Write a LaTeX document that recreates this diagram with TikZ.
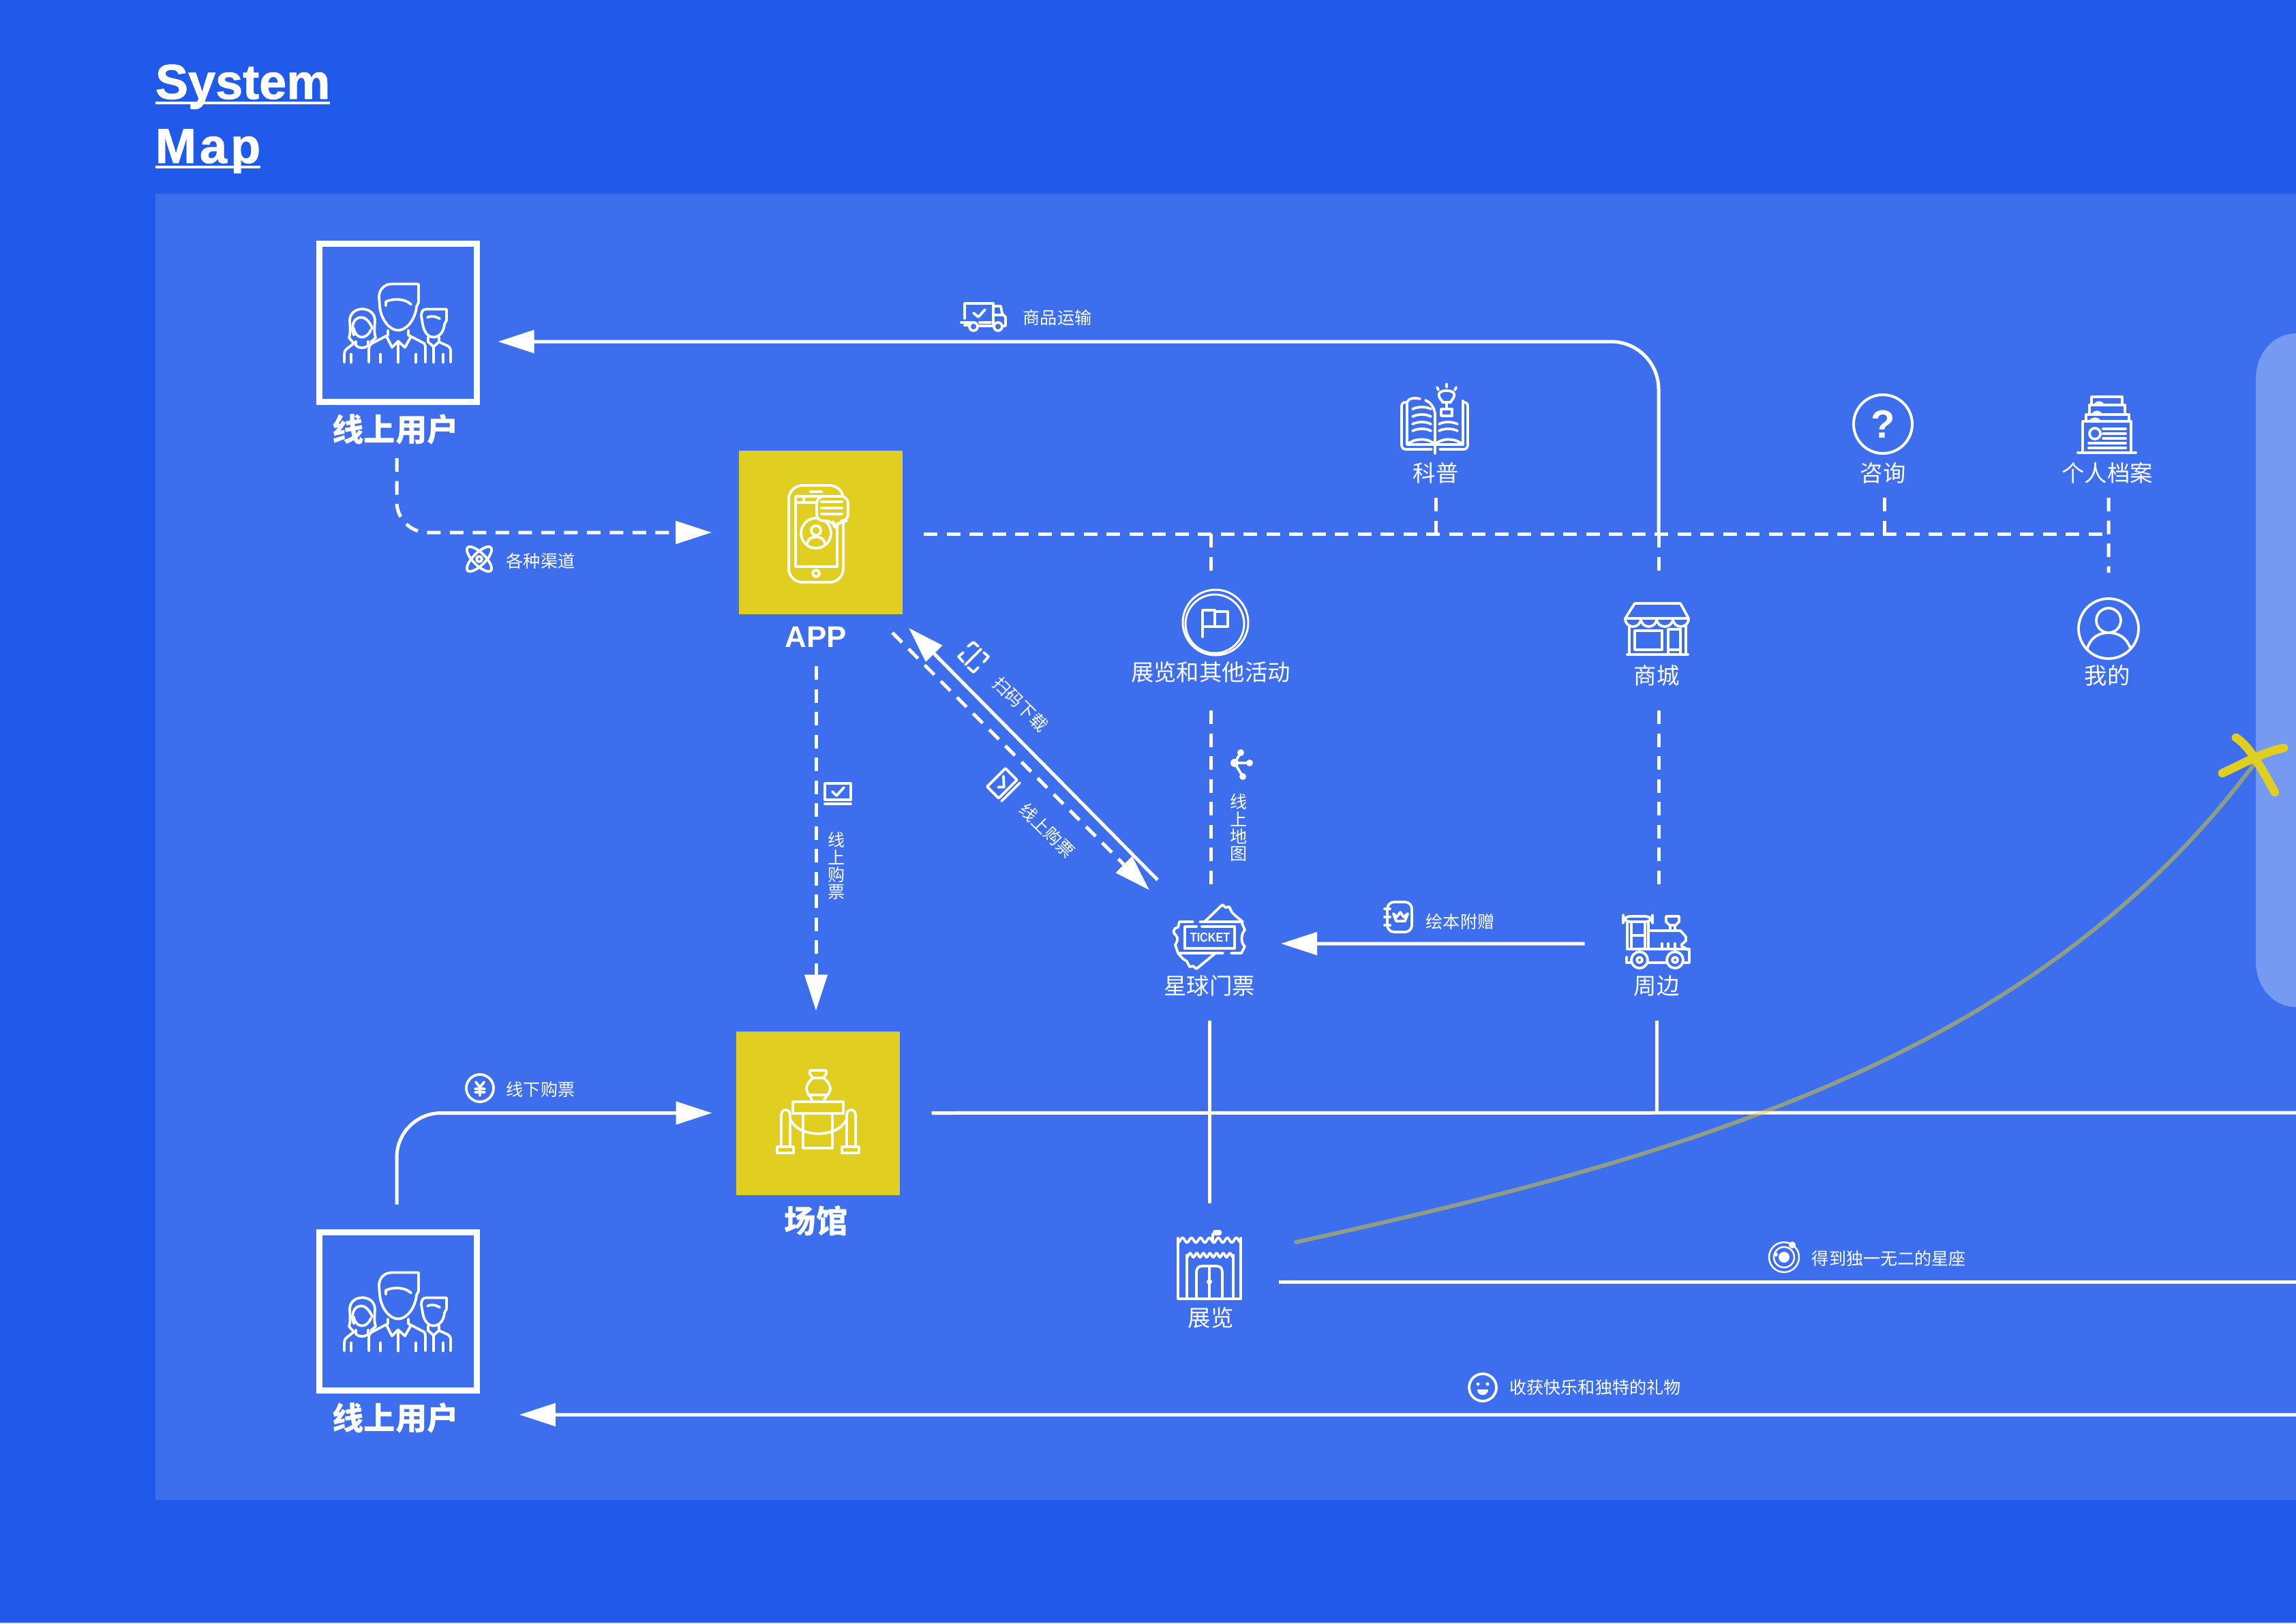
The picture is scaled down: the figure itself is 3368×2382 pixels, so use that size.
\documentclass[tikz,border=0pt]{standalone}
\usepackage{fontspec}
\usepackage{xcolor}
\usetikzlibrary{arrows.meta}
\setmainfont{Liberation Sans}
\newfontfamily\cjk{Noto Sans CJK SC}
\newcommand{\pxsize}[1]{\fontsize{#1}{#1}\selectfont}
\definecolor{mapdeep}{HTML}{1F5AEA}
\definecolor{mappanel}{HTML}{3C6EEE}
\definecolor{mapside}{HTML}{7699F2}
\definecolor{mapgold}{HTML}{E0CF20}
\definecolor{mapedge}{HTML}{D5E0FB}

\begin{document}
\begin{tikzpicture}[
  x=0.1mm,
  y=-0.1mm,
  every node/.style={text=white, inner sep=0pt, outer sep=0pt},
  flowtip/.style={-{Triangle[length=5.3mm, width=3.3mm]}},
  solidflow/.style={white, line width=0.5mm},
  dashflow/.style={white, line width=0.5mm, dash pattern=on 2mm off 1.35mm},
  icon/.style={white, line width=0.38mm, line cap=round, line join=round},
  dot/.style={fill=white, draw=none},
  userbox/.style={draw=white, line width=0.9mm, minimum width=23.1mm, minimum height=23.2mm},
  goldbox/.style={fill=mapgold, minimum width=24mm, minimum height=24mm},
  slot/.style={minimum width=#1},
  mainlabel/.style={font=\cjk\pxsize{13.2}\bfseries, minimum height=5mm},
  applabel/.style={font=\pxsize{12.5}\bfseries, minimum height=4mm},
  itemlabel/.style={font=\cjk\pxsize{9.5}, minimum height=4mm},
  edgelabel/.style={font=\cjk\pxsize{7.15}},
  stacklabel/.style={font=\cjk\pxsize{7.15}, align=center},
  titlelabel/.style={font=\pxsize{20.5}\bfseries\addfontfeature{FakeBold=1.2}, anchor=base west},
  titlerule/.style={white, line width=0.45mm},
  starline/.style={mapgold, opacity=0.5, line width=0.6mm, line cap=round},
  starmark/.style={mapgold, line width=1.25mm, line cap=round},
  people/.pic={
    % big figure
    \draw[icon] (30,-57) -- (-9,-57) .. controls (-21,-57) and (-28,-48) .. (-28,-38) -- (-27,-24)
      .. controls (-25,-4) and (-12,11) .. (0,11) .. controls (12,11) and (25,-4) .. (27,-24) -- (30,-30) -- cycle;
    \draw[icon] (-18,-25) -- (-18,-31) .. controls (-8,-36) and (10,-36) .. (19,-27);
    \draw[icon] (-15,11) -- (-15,18) -- (-38,30) .. controls (-42,32) and (-43,36) .. (-43,40) -- (-43,58);
    \draw[icon] (15,11) -- (15,18) -- (38,30) .. controls (39,31) and (40,33) .. (40,36) -- (40,58);
    \draw[icon] (-17,20) -- (-9,36) -- (0,27) -- (10,36) -- (19,20);
    \draw[icon] (0,27) -- (0,58) (-26,46) -- (-26,58) (26,46) -- (26,58);
    % left figure
    \draw[icon] (-72,22) .. controls (-69,12) and (-71,4) .. (-71,-3) .. controls (-71,-26) and (-34,-26) .. (-34,-3)
      .. controls (-34,4) and (-36,12) .. (-33,22) -- (-40,28);
    \draw[icon] (-65,18) .. controls (-69,8) and (-67,-8) .. (-54,-8) .. controls (-46,-8) and (-40,2) .. (-38,8);
    \draw[icon] (-65,8) .. controls (-63,24) and (-46,26) .. (-40,10);
    \draw[icon] (-72,22) -- (-65,30) -- (-75,38) .. controls (-78,40) and (-79,43) .. (-79,46) -- (-79,58);
    \draw[icon] (-62,27) -- (-62,33) .. controls (-58,38) and (-48,38) .. (-44,33) -- (-44,27);
    \draw[icon] (-69,46) -- (-69,58);
    % right figure
    \draw[icon] (71,-20) -- (41,-20) .. controls (36,-20) and (34,-16) .. (34,-10) -- (36,2)
      .. controls (38,14) and (44,21) .. (52,21) .. controls (60,21) and (67,14) .. (68,2) -- (71,-4) -- cycle;
    \draw[icon] (43,-8) .. controls (50,-11) and (56,-9) .. (61,-6);
    \draw[icon] (44,21) -- (44,28) -- (52,35) -- (60,28) -- (60,21);
    \draw[icon] (60,28) -- (73,34) .. controls (76,36) and (77,38) .. (77,42) -- (77,58);
    \draw[icon] (52,35) -- (52,58) (66,46) -- (66,58);
  },
  checkscreen/.pic={
    \draw[icon] (-19,-15) rectangle (19,9);
    \draw[icon] (-19,15) -- (19,15);
    \draw[icon] (-8,-3) -- (-2,3) -- (9,-9);
  }
]
  % ---- page size and the flat areas --------------------------------------
  \useasboundingbox (0,0) rectangle (3368,2382);
  \fill[mapdeep] (0,0) rectangle (3368,2382);
  \fill[mapedge] (0,2380) rectangle (3368,2382);
  \fill[mappanel] (228,284) rectangle (3368,2200);
  \fill[mapside] (3368,489) .. controls (3335,489) and (3309,518) .. (3309,556) -- (3309,1410)
    .. controls (3309,1448) and (3335,1477) .. (3368,1477) -- cycle;

  % ---- title -------------------------------------------------------------
  \node[titlelabel] (systemword) at (228,145) {System};
  \node[titlelabel] (mapword) at (228,239) {\addfontfeature{LetterSpace=7}Map};
  \draw[titlerule] ([yshift=-0.6mm]systemword.base west) -- ([yshift=-0.6mm]systemword.base east);
  \draw[titlerule] ([yshift=-0.6mm]mapword.base west) -- ([yshift=-0.6mm]mapword.base east);

  % ---- main boxes --------------------------------------------------------
  \node[userbox] (usertop) at (584,473.5) {};
  \node[mainlabel] (usertoplabel) at (580,630) {线上用户};
  \node[userbox] (userlow) at (584,1923.5) {};
  \node[mainlabel] (userlowlabel) at (580,2080) {线上用户};
  \node[goldbox] (app) at (1204,781) {};
  \node[applabel] (applabelnode) at (1197,934) {APP};
  \node[goldbox] (venue) at (1199.5,1632.5) {};
  \node[mainlabel] (venuelabel) at (1197,1791) {场馆};
  \path (usertop) pic {people};
  \path (userlow) pic {people};

  % ---- item labels and the slots of their icons --------------------------
  \node[itemlabel] (sciencelabel) at (2106,694) {科普};
  \node[itemlabel] (asklabel) at (2762,694) {咨询};
  \node[itemlabel] (filelabel) at (3091,694) {个人档案};
  \node[itemlabel] (eventlabel) at (1776,986) {展览和其他活动};
  \node[itemlabel] (shoplabel) at (2430,991) {商城};
  \node[itemlabel] (minelabel) at (3091,991) {我的};
  \node[itemlabel] (ticketlabel) at (1774,1446) {星球门票};
  \node[itemlabel] (giftlabel) at (2430,1446) {周边};
  \node[itemlabel] (showlabel) at (1776,1933) {展览};
  \node[slot=9.3mm, minimum height=7.8mm] (shopicon) at (2431,923) {};
  \node[slot=8.8mm, minimum height=8.8mm] (mineicon) at (3093,922) {};
  \node[slot=9.6mm, minimum height=9.6mm] (eventicon) at (1783,913) {};
  \node[slot=10.4mm, minimum height=9.5mm] (ticketicon) at (1775,1375) {};
  \node[slot=9.7mm, minimum height=7.6mm] (trainicon) at (2429,1382) {};
  \node[slot=9.2mm, minimum height=10.1mm] (showicon) at (1774,1855) {};

  % ---- free ends ---------------------------------------------------------
  \coordinate (hubend) at (3087,783);
  \coordinate (shipstart) at (2433,783);
  \coordinate (venueend) at (3368,1632);
  \coordinate (showend) at (3368,1880);
  \coordinate (backstart) at (3368,2075);
  \coordinate (starfrom) at (1901,1822);
  \coordinate (starto) at (3307,1120);

  % ---- connectors --------------------------------------------------------
  \draw[solidflow, flowtip, rounded corners=7mm, shorten >=3.1mm]
    (shipstart) |- ([yshift=-2.75mm]usertop.east);
  \draw[dashflow, flowtip, rounded corners=4.5mm, shorten <=1.7mm, shorten >=4mm]
    ([xshift=0.2mm]usertoplabel.south) |- (app.west);
  \draw[dashflow, shorten <=3.1mm] (app.east |- hubend) -- (hubend);
  \draw[dashflow, shorten <=1.6mm] (sciencelabel.south) -- (sciencelabel.south |- hubend);
  \draw[dashflow, shorten <=1.6mm] ([xshift=0.2mm]asklabel.south) -- ([xshift=0.2mm]asklabel.south |- hubend);
  \draw[dashflow, shorten <=1.6mm, shorten >=3.8mm] ([xshift=0.2mm]filelabel.south) -- (mineicon.north);
  \draw[dashflow, shorten >=2.2mm] (eventlabel |- hubend) -- (eventlabel |- eventicon.north);
  \draw[dashflow, shorten >=4.4mm] (shipstart) -- (shipstart |- shopicon.north);
  \draw[dashflow, shorten <=3.6mm, shorten >=1.8mm] (eventlabel.south) -- (eventlabel.south |- ticketicon.north);
  \draw[dashflow, shorten <=3.1mm, shorten >=3.5mm] (shipstart |- shoplabel.south) -- (shipstart |- trainicon.north);
  \draw[dashflow, flowtip, shorten <=2.3mm, shorten >=3mm] (applabelnode.south) -- (applabelnode.south |- venue.north);
  \draw[solidflow, flowtip] ([xshift=-2.5mm, yshift=3.7mm]ticketicon.north west) -- ([xshift=0.9mm, yshift=-2mm]app.south east);
  \draw[dashflow, flowtip] ([xshift=-1.5mm, yshift=-2.7mm]app.south east) -- ([xshift=-3.7mm, yshift=2.2mm]ticketicon.north west);
  \draw[solidflow, flowtip, shorten <=5.6mm, shorten >=5.2mm] ([yshift=-0.2mm]trainicon.west) -- ([yshift=-0.9mm]ticketicon.east);
  \draw[solidflow, shorten <=3.1mm, shorten >=4mm] (ticketlabel.south) -- (ticketlabel.south |- showicon.north);
  \draw[solidflow, shorten <=3.1mm] (giftlabel.south) -- (giftlabel.south |- venueend);
  \draw[solidflow, shorten <=4.7mm] (venue.east) -- (venueend);
  \draw[solidflow, shorten <=5.6mm] (showicon.east |- showend) -- (showend);
  \draw[solidflow, flowtip, rounded corners=6.5mm, shorten <=4.1mm, shorten >=3.5mm] ([xshift=-0.2mm]userlow.north) |- (venue.west);
  \draw[solidflow, flowtip, shorten >=8.9mm] (backstart) -- ([yshift=0.5mm]userlowlabel.east);

  % ---- texts along the connectors ----------------------------------------
  \node[edgelabel] (shiptext) at (1551,466) {商品运输};
  \node[edgelabel] (channeltext) at (793,823) {各种渠道};
  \node[edgelabel] (gifttext) at (2142,1352) {绘本附赠};
  \node[edgelabel] (cashtext) at (793,1598) {线下购票};
  \node[edgelabel] (startext) at (2771,1846) {得到独一无二的星座};
  \node[edgelabel] (joytext) at (2340,2035) {收获快乐和独特的礼物};
  \node[edgelabel, rotate=-45] (scantext) at (1497,1033) {扫码下载};
  \node[edgelabel, rotate=-45] (buytext) at (1536,1218) {线上购票};
  \node[stacklabel] (onlinetext) at (1227,1270) {线\\上\\购\\票};
  \node[stacklabel] (maptext) at (1817,1214) {线\\上\\地\\图};

  % ---- phone -------------------------------------------------------------
  \draw[icon, rounded corners=2mm] (1157,712) rectangle (1237,854);
  \draw[icon] (1167,728) rectangle (1228,831) (1167,737) -- (1198,737) (1179,728) -- (1179,737) (1189,721) -- (1205,721);
  \draw[icon] (1197,841) circle[radius=5];
  \draw[icon] (1197,782) circle[radius=22] (1197,778) circle[radius=7];
  \draw[icon] (1184,798) .. controls (1184,784) and (1210,784) .. (1210,798);
  \draw[icon, fill=mapgold, rounded corners=1mm] (1198,728) -- (1244,728) -- (1244,764) -- (1232,764) -- (1225,775) -- (1222,764) -- (1198,764) -- cycle;
  \draw[icon] (1205,736) -- (1235,736) (1205,745) -- (1235,745) (1205,754) -- (1235,754);

  % ---- vase --------------------------------------------------------------
  \draw[icon] (1188,1570) -- (1212,1570) -- (1212,1575) -- (1208,1581) .. controls (1214,1586) and (1218,1591) .. (1218,1597)
    .. controls (1218,1604) and (1210,1608) .. (1208,1616) -- (1192,1616) .. controls (1190,1608) and (1183,1604) .. (1183,1597)
    .. controls (1183,1591) and (1187,1586) .. (1192,1581) -- (1188,1575) -- cycle;
  \draw[icon] (1192,1581) -- (1208,1581) (1186,1606) -- (1214,1606);
  \draw[icon] (1163,1616) rectangle (1237,1633);
  \draw[icon] (1178,1633) -- (1178,1684) -- (1221,1684) -- (1221,1633);
  \draw[icon] (1146,1682) -- (1146,1636) .. controls (1146,1625) and (1159,1625) .. (1159,1636) -- (1159,1682);
  \draw[icon] (1242,1682) -- (1242,1636) .. controls (1242,1625) and (1255,1625) .. (1255,1636) -- (1255,1682);
  \draw[icon] (1140,1682) rectangle (1164,1691) (1235,1682) rectangle (1260,1691);
  \draw[icon] (1159,1641) .. controls (1170,1670) and (1231,1670) .. (1242,1641);

  % ---- book with bulb ----------------------------------------------------
  \draw[icon] (2062,590) .. controls (2058,590) and (2056,592) .. (2056,596) -- (2056,652) .. controls (2056,656) and (2058,659) .. (2062,659) -- (2100,659);
  \draw[icon] (2112,659) -- (2147,659) .. controls (2151,659) and (2153,656) .. (2153,652) -- (2153,596) .. controls (2153,592) and (2151,590) .. (2147,590);
  \draw[icon] (2064,652) -- (2064,590) .. controls (2066,584) and (2075,583) .. (2083,585);
  \draw[icon] (2105,652) -- (2105,665) (2105,606) -- (2105,652);
  \draw[icon] (2091,587) .. controls (2098,590) and (2103,596) .. (2105,606);
  \draw[icon] (2146,652) -- (2146,588);
  \draw[icon] (2064,652) .. controls (2075,642) and (2096,642) .. (2105,652) .. controls (2114,642) and (2135,642) .. (2146,652) (2064,652) -- (2146,652);
  \draw[icon] (2072,600) .. controls (2080,596) and (2092,596) .. (2099,600);
  \draw[icon] (2072,611) .. controls (2080,607) and (2092,607) .. (2099,611);
  \draw[icon] (2072,622) .. controls (2080,618) and (2092,618) .. (2099,622);
  \draw[icon] (2072,632) .. controls (2080,628) and (2092,628) .. (2099,632);
  \draw[icon] (2111,622) .. controls (2118,618) and (2130,618) .. (2138,622);
  \draw[icon] (2111,632) .. controls (2118,628) and (2130,628) .. (2138,632);
  \draw[icon] (2117,590) .. controls (2105,578) and (2112,573) .. (2122,573) .. controls (2132,573) and (2139,578) .. (2127,590) -- cycle;
  \draw[icon] (2116,590) -- (2128,590) (2122,590) -- (2122,600);
  \draw[icon] (2114,600) rectangle (2130,610);
  \draw[icon] (2122,563) -- (2122,568) (2108,568) -- (2110,572) (2136,568) -- (2134,572);

  % ---- question ----------------------------------------------------------
  \draw[icon, line width=0.4mm] (2762,622) circle[radius=43];
  \node[font=\pxsize{16.5}\bfseries] (askmark) at (2762,622) {?};

  % ---- stacked cards -----------------------------------------------------
  \draw[icon] (3068,594) -- (3068,582) -- (3113,582) -- (3113,594);
  \draw[icon] (3065,594) -- (3117,594) (3065,608) -- (3065,594) (3117,608) -- (3117,594);
  \draw[icon] (3060,608) -- (3123,608) (3060,618) -- (3060,608) (3123,618) -- (3123,608);
  \draw[icon] (3055,664) -- (3055,618) -- (3126,618) -- (3126,664);
  \draw[icon] (3048,664) -- (3133,664);
  \draw[icon] (3073,636) circle[radius=8];
  \draw[icon] (3085,629) -- (3118,629) (3085,636) -- (3118,636) (3085,643) -- (3118,643);
  \draw[icon] (3064,650) -- (3118,650) (3064,657) -- (3118,657);
  \draw[icon] (3073,594) .. controls (3075,589) and (3083,589) .. (3085,594);
  \draw[icon] (3070,608) .. controls (3072,603) and (3080,603) .. (3082,608);
  \draw[icon] (3066,618) .. controls (3068,613) and (3078,613) .. (3080,618);

  % ---- flag --------------------------------------------------------------
  \draw[icon, line width=0.3mm] (eventicon) circle[radius=48] (1782,915) circle[radius=43];
  \draw[icon] (1764,934) -- (1764,895) -- (1782,895) -- (1782,919) -- (1764,919);
  \draw[icon] (1782,897) -- (1801,897) -- (1801,919) -- (1782,919);

  % ---- shop --------------------------------------------------------------
  \draw[icon] (2398,885) -- (2465,885) -- (2477,907) -- (2384,907) -- cycle;
  \draw[icon] (2384,907) .. controls (2384,923) and (2407,923) .. (2407,907) .. controls (2407,923) and (2430,923) .. (2430,907)
    .. controls (2430,923) and (2454,923) .. (2454,907) .. controls (2454,923) and (2477,923) .. (2477,907);
  \draw[icon] (2390,918) -- (2390,960) (2473,918) -- (2473,960) (2387,960) -- (2476,960);
  \draw[icon] (2398,925) rectangle (2438,953) (2447,923) rectangle (2465,960) (2447,953) -- (2465,953);

  % ---- person ------------------------------------------------------------
  \draw[icon] (mineicon) circle[radius=44];
  \draw[icon] (3093,910) circle[radius=18];
  \draw[icon] (3062,951) .. controls (3066,936) and (3078,928) .. (3093,928) .. controls (3108,928) and (3120,936) .. (3125,951);

  % ---- train -------------------------------------------------------------
  \draw[icon, rounded corners=1mm] (2381,1344) rectangle (2424,1352);
  \draw[icon] (2387,1352) -- (2387,1392) (2393,1352) -- (2393,1392) (2413,1352) -- (2413,1392) (2418,1352) -- (2418,1392) (2393,1372) -- (2413,1372);
  \draw[icon] (2444,1344) -- (2463,1344) -- (2463,1352) -- (2458,1357) -- (2449,1357) -- (2444,1352) -- cycle;
  \draw[icon] (2450,1357) -- (2450,1365) (2457,1357) -- (2457,1365);
  \draw[icon] (2420,1365) -- (2465,1365) -- (2473,1374) -- (2473,1380) -- (2467,1385) -- (2467,1388) -- (2478,1394) -- (2478,1412) -- (2470,1412);
  \draw[icon] (2387,1392) -- (2478,1392);
  \draw[icon] (2386,1404) -- (2386,1412) -- (2392,1412) (2418,1412) -- (2444,1412);
  \draw[icon] (2405,1408) circle[radius=12] (2405,1408) circle[radius=4];
  \draw[icon] (2457,1408) circle[radius=12] (2457,1408) circle[radius=4];
  \draw[icon] (2438,1384) -- (2438,1392) (2447,1384) -- (2447,1392) (2457,1384) -- (2457,1392);

  % ---- ticket ------------------------------------------------------------
  \draw[icon] (1750,1352) -- (1730,1352) -- (1728,1360) .. controls (1720,1362) and (1720,1368) .. (1725,1372)
    .. controls (1730,1376) and (1725,1384) .. (1724,1386) -- (1728,1398) -- (1794,1398);
  \draw[icon] (1806,1398) -- (1821,1398) -- (1826,1388) .. controls (1820,1384) and (1820,1370) .. (1826,1364) -- (1821,1352) -- (1760,1352);
  \draw[icon] (1755,1359) -- (1738,1359) -- (1738,1391) -- (1811,1391) -- (1811,1359) -- (1763,1359);
  \draw[icon] (1767,1352) -- (1793,1327) -- (1798,1331) -- (1803,1330) -- (1807,1338) -- (1812,1343) -- (1823,1352);
  \draw[icon] (1783,1398) -- (1755,1421) -- (1750,1417) -- (1745,1418) -- (1741,1410) -- (1735,1406) -- (1728,1398);
  \node[font=\pxsize{5.4}\bfseries, transform shape, xscale=0.85] (tickettext) at (1775,1375) {TICKET};

  % ---- castle ------------------------------------------------------------
  \draw[icon] (1728,1816) -- (1728,1905) -- (1820,1905) -- (1820,1816);
  \draw[icon] plot[domain=0:92, samples=80] ({1728+\x},{1819+3.5*cos(\x/13.15*360)});
  \draw[icon] (1741,1841) -- (1741,1905) (1809,1841) -- (1809,1905);
  \draw[icon] plot[domain=0:68, samples=80] ({1741+\x},{1841+3*cos(\x/9.7*360)});
  \draw[icon] (1755,1905) -- (1755,1866) .. controls (1755,1860) and (1758,1857) .. (1764,1857) -- (1784,1857)
    .. controls (1790,1857) and (1793,1860) .. (1793,1866) -- (1793,1905);
  \draw[icon] (1774,1857) -- (1774,1905);
  \fill[dot] (1774,1880) circle[radius=4];
  \draw[icon] (1779,1820) -- (1779,1810);
  \fill[dot, rounded corners=0.3mm] (1779,1804) rectangle (1792,1812);

  % ---- small icons -------------------------------------------------------
  % truck
  \draw[icon] (1415,467) -- (1415,445) -- (1457,445) -- (1457,477);
  \draw[icon] (1457,449) -- (1468,449) -- (1470,460) -- (1475,465) -- (1475,478) -- (1471,478);
  \draw[icon] (1457,462) -- (1470,462);
  \draw[icon] (1428,479) circle[radius=6] (1464,479) circle[radius=6];
  \draw[icon] (1410,473) -- (1425,473) (1415,477) -- (1422,477) (1437,473) -- (1453,473) (1435,478) -- (1457,478);
  \draw[icon] (1428,459) -- (1435,465) -- (1445,454);
  % atom
  \draw[icon] (703,820) circle[x radius=24, y radius=9, rotate=45];
  \draw[icon] (703,820) circle[x radius=24, y radius=9, rotate=-45];
  \draw[icon] (703,820) circle[radius=4];
  % yen
  \draw[icon] (704,1596) circle[radius=20];
  \draw[icon] (698,1587) -- (704,1595) -- (710,1587) (704,1595) -- (704,1607) (697,1597) -- (711,1597) (697,1602) -- (711,1602);
  % screens with a tick
  \path (1229,1164) pic {checkscreen};
  \path (1472,1151) pic[rotate=45] {checkscreen};
  % scan
  \draw[icon] (1420,948) -- (1428,942) -- (1435,948) (1443,957) -- (1450,963) -- (1443,971);
  \draw[icon] (1435,979) -- (1428,986) -- (1420,979) (1413,971) -- (1406,963) -- (1413,957);
  \draw[icon] (1416,975) -- (1439,952);
  % share
  \fill[dot] (1811,1119) circle[radius=6] (1820,1104) circle[radius=5] (1833,1119) circle[radius=5] (1823,1139) circle[radius=5];
  \draw[icon] (1811,1119) -- (1820,1104) (1811,1119) -- (1833,1119) (1811,1119) -- (1823,1139);
  % notebook
  \draw[icon, rounded corners=1mm] (2035,1323) rectangle (2071,1367);
  \draw[icon] (2031,1333) -- (2039,1333) (2031,1345) -- (2039,1345) (2031,1357) -- (2039,1357);
  \draw[icon] (2044,1340) -- (2048,1351) -- (2061,1351) -- (2065,1340) -- (2059,1345) -- (2054,1338) -- (2049,1345) -- cycle;
  % planet
  \draw[icon, line width=0.25mm] (2617,1844) circle[radius=22] (2617,1844) circle[radius=15];
  \fill[dot] (2617,1844) circle[radius=8] (2629,1826) circle[radius=5] (2605,1840) circle[radius=3];
  % smiley
  \draw[icon] (2175,2035) circle[radius=20];
  \fill[dot] (2168,2030) circle[radius=2.5] (2182,2030) circle[radius=2.5];
  \fill[dot] (2167,2038) -- (2183,2038) .. controls (2183,2049) and (2167,2049) .. (2167,2038) -- cycle;

  % ---- the line to the mark ----------------------------------------------
  \draw[starline] (starfrom) .. controls (2450,1700) and (2980,1560) .. (starto);
  \draw[starmark] (3280,1082) .. controls (3300,1094) and (3320,1132) .. (3337,1162);
  \draw[starmark] (3260,1134) .. controls (3290,1120) and (3320,1103) .. (3350,1097);
\end{tikzpicture}
\end{document}
